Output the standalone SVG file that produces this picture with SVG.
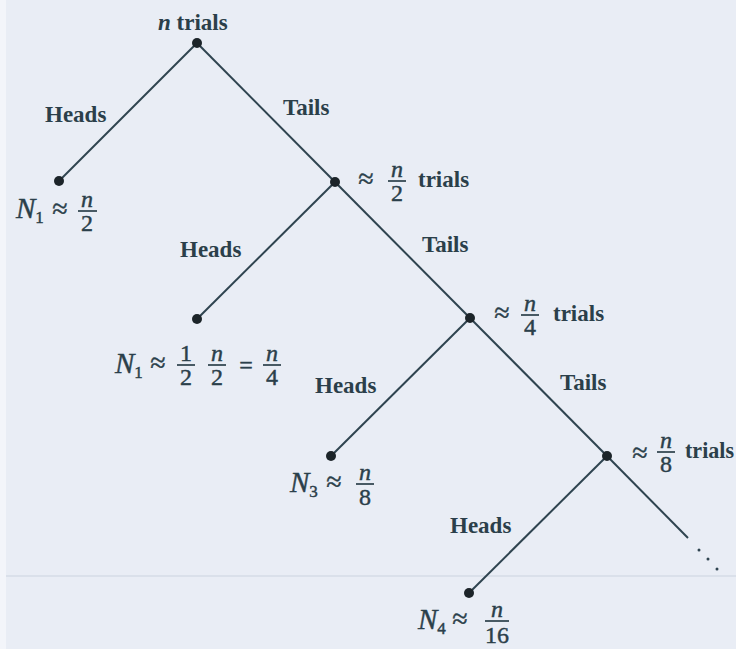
<svg xmlns="http://www.w3.org/2000/svg" width="736" height="649" viewBox="0 0 736 649" font-family="Liberation Serif, DejaVu Serif, serif">
<defs>
<style>
.bg{fill:#e9edf5}
.edge{stroke:#2f4450;stroke-width:2;fill:none}
.dot{fill:#1c2429}
text{font-family:Liberation Serif, DejaVu Serif, serif}
.lbl{font-size:23px;font-weight:bold;fill:#2b3f4a}
.m{font-size:24px;fill:#2b3f4a;stroke:#2b3f4a;stroke-width:0.45}
.mc{text-anchor:middle}
.it{font-style:italic}
.big{font-size:29px}
.sub{font-size:17px}
.ap{font-size:28px;text-anchor:middle}
.bar{stroke:#2b3f4a;stroke-width:1.7}
.ell{fill:#2f4450}
</style>
</defs>
<rect class="bg" x="0" y="0" width="736" height="649"/>
<rect x="0" y="0" width="6" height="649" fill="#f3f5fa"/>
<line x1="6" y1="576" x2="736" y2="576" stroke="#d5dbe6" stroke-width="1.5"/>

<g id="edges">
<line class="edge" x1="197" y1="43" x2="59" y2="181"/>
<line class="edge" x1="197" y1="43" x2="335" y2="182"/>
<line class="edge" x1="335" y1="182" x2="197" y2="319"/>
<line class="edge" x1="335" y1="182" x2="470" y2="318"/>
<line class="edge" x1="470" y1="318" x2="331" y2="456"/>
<line class="edge" x1="470" y1="318" x2="607" y2="456"/>
<line class="edge" x1="607" y1="456" x2="469" y2="593"/>
<line class="edge" x1="607" y1="456" x2="688" y2="538"/>
<circle class="ell" cx="699" cy="550" r="1.5"/>
<circle class="ell" cx="708" cy="559" r="1.5"/>
<circle class="ell" cx="717" cy="569" r="1.5"/>
<text class="lbl" x="45" y="122">Heads</text>
<text class="lbl" x="283" y="115">Tails</text>
<text class="lbl" x="180" y="257">Heads</text>
<text class="lbl" x="422" y="252">Tails</text>
<text class="lbl" x="315" y="393">Heads</text>
<text class="lbl" x="560" y="390">Tails</text>
<text class="lbl" x="450" y="533">Heads</text>
</g>

<g id="root">
<circle class="dot" cx="197" cy="43" r="5"/>
<text class="lbl" x="158" y="30"><tspan class="it">n</tspan> trials</text>
</g>

<g id="leaf1">
<circle class="dot" cx="59" cy="181" r="5"/>
<text class="m big it" x="16" y="218">N<tspan class="sub" font-style="normal" dy="5">1</tspan></text>
<text class="m ap" x="60" y="218">≈</text>
<text class="m mc it" x="87" y="207">n</text>
<line class="bar" x1="78" y1="211" x2="97" y2="211"/>
<text class="m mc" x="87" y="231">2</text>
</g>

<g id="node2">
<circle class="dot" cx="335" cy="182" r="5"/>
<text class="m ap" x="366" y="188">≈</text>
<text class="m mc it" x="397" y="177">n</text>
<line class="bar" x1="388" y1="181" x2="406" y2="181"/>
<text class="m mc" x="397" y="201">2</text>
<text class="lbl" x="418" y="187">trials</text>
</g>

<g id="leaf2">
<circle class="dot" cx="197" cy="319" r="5"/>
<text class="m big it" x="115" y="373">N<tspan class="sub" font-style="normal" dy="5">1</tspan></text>
<text class="m ap" x="158" y="372">≈</text>
<text class="m mc" x="186" y="361">1</text>
<line class="bar" x1="177" y1="365" x2="195" y2="365"/>
<text class="m mc" x="186" y="385">2</text>
<text class="m mc it" x="217" y="361">n</text>
<line class="bar" x1="208" y1="365" x2="226" y2="365"/>
<text class="m mc" x="217" y="385">2</text>
<text class="m mc" x="246" y="373">=</text>
<text class="m mc it" x="272" y="361">n</text>
<line class="bar" x1="263" y1="365" x2="281" y2="365"/>
<text class="m mc" x="272" y="385">4</text>
</g>

<g id="node3">
<circle class="dot" cx="470" cy="318" r="5"/>
<text class="m ap" x="502" y="322">≈</text>
<text class="m mc it" x="530" y="311">n</text>
<line class="bar" x1="521" y1="315" x2="539" y2="315"/>
<text class="m mc" x="530" y="335">4</text>
<text class="lbl" x="553" y="321">trials</text>
</g>

<g id="leaf3">
<circle class="dot" cx="331" cy="456" r="5"/>
<text class="m big it" x="290" y="492">N<tspan class="sub" font-style="normal" dy="5">3</tspan></text>
<text class="m ap" x="334" y="491">≈</text>
<text class="m mc it" x="365" y="480">n</text>
<line class="bar" x1="356" y1="484" x2="374" y2="484"/>
<text class="m mc" x="365" y="505">8</text>
</g>

<g id="node4">
<circle class="dot" cx="607" cy="456" r="5"/>
<text class="m ap" x="640" y="462">≈</text>
<text class="m mc it" x="666" y="448">n</text>
<line class="bar" x1="657" y1="452" x2="675" y2="452"/>
<text class="m mc" x="666" y="472">8</text>
<text class="lbl" x="685" y="458" textLength="49" lengthAdjust="spacingAndGlyphs">trials</text>
</g>

<g id="leaf4">
<circle class="dot" cx="469" cy="593" r="5"/>
<text class="m big it" x="418" y="629">N<tspan class="sub" font-style="normal" dy="5">4</tspan></text>
<text class="m ap" x="460" y="628">≈</text>
<text class="m mc it" x="497" y="617">n</text>
<line class="bar" x1="485" y1="621" x2="509" y2="621"/>
<text class="m mc" x="497" y="643">16</text>
</g>
</svg>
